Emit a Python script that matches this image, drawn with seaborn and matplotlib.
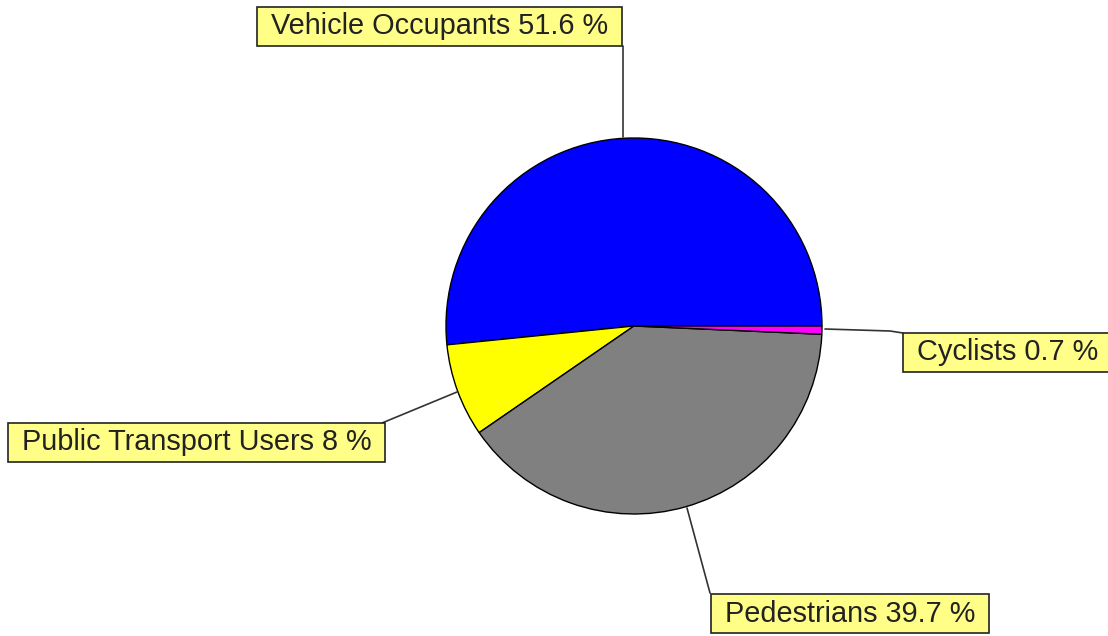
import matplotlib.pyplot as plt
import seaborn as sns

# slices in drawing order (counter-clockwise from 3 o'clock)
categories = ["Vehicle Occupants", "Public Transport Users", "Pedestrians", "Cyclists"]
shares = [51.6, 8, 39.7, 0.7]
share_labels = ["51.6", "8", "39.7", "0.7"]
colors = ["#0000ff", "#ffff00", "#808080", "#ff00ff"]

sns.set_style("white")
plt.rcParams["font.family"] = ["Liberation Sans", "DejaVu Sans"]

W, H = 1108, 636
fig = plt.figure(figsize=(W / 100, H / 100), dpi=100)
ax = fig.add_axes([0, 0, 1, 1])

cx, cy, r = 634, H - 326, 188
ax.pie(shares, colors=colors, startangle=0, counterclock=True,
       center=(cx, cy), radius=r, frame=True,
       wedgeprops=dict(edgecolor="black", linewidth=1.0))
ax.set_xlim(0, W)
ax.set_ylim(0, H)
ax.set_aspect("equal")
ax.set_axis_off()

fs = 20.8
pad = 0.2
pad_px = pad * fs * 100 / 72

# label boxes: (box left x, box center y in image px) and leader line in image px
boxes = {
    "Vehicle Occupants": ((257, 26.5), [(623, 46), (623, 137)]),
    "Public Transport Users": ((8, 442.5), [(382, 423), (457, 392)]),
    "Pedestrians": ((711, 613.5), [(710, 593), (687, 508)]),
    "Cyclists": ((903, 352.5), [(903, 333), (890, 331), (825, 329)]),
}

for name, val in zip(categories, share_labels):
    (bx, by), line = boxes[name]
    xs = [p[0] for p in line]
    ys = [H - p[1] for p in line]
    ax.plot(xs, ys, color="#333333", lw=1.2, zorder=1)
    ax.text(bx + pad_px, H - by, f" {name} {val} % ", ha="left", va="center",
            fontsize=fs, color="#222222", zorder=5,
            bbox=dict(boxstyle=f"square,pad={pad}", facecolor="#ffff88",
                      edgecolor="#222222", linewidth=1.2))

fig.savefig("out.png", dpi=100)
